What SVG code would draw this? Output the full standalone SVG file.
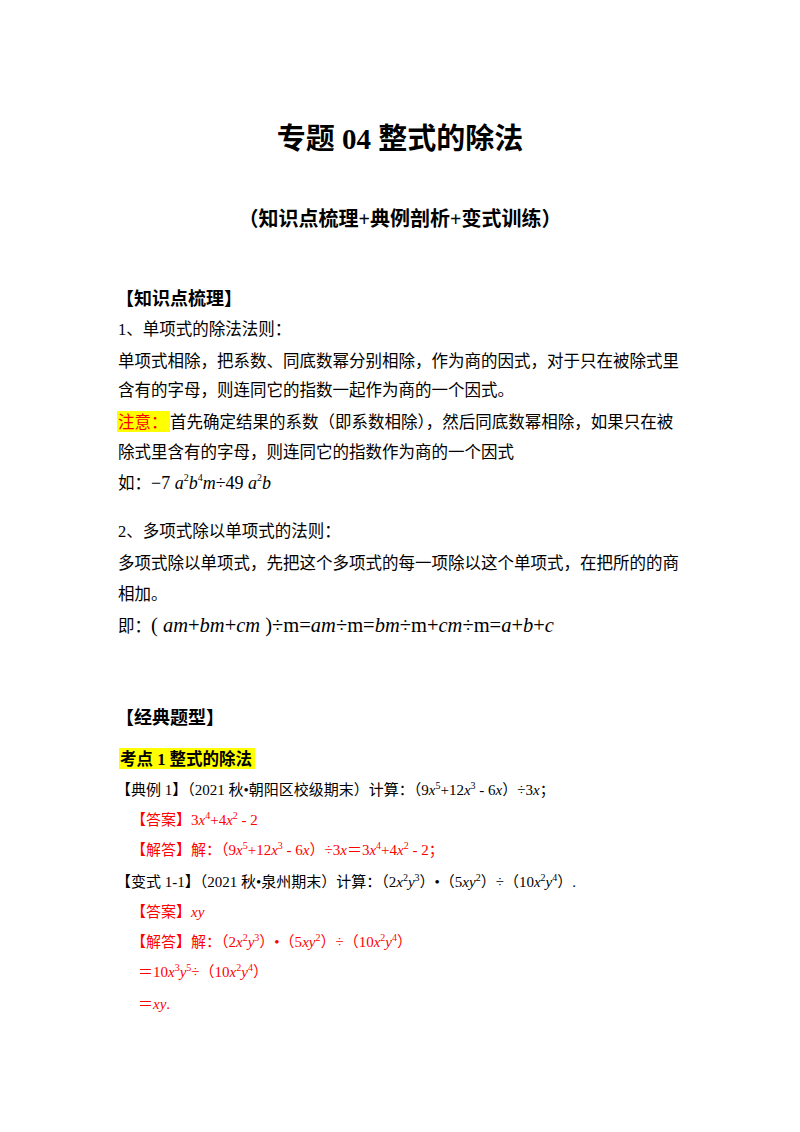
<svg xmlns="http://www.w3.org/2000/svg" width="800" height="1132" viewBox="0 0 800 1132">
<style>
text{font-family:"Liberation Serif","Noto Sans CJK SC",serif;fill:#000}
.b{font-size:16.5px}
.s{font-size:15px}
.h{font-weight:bold}
.r{fill:#f00}
.i{font-style:italic}
.m{font-family:"Liberation Serif",serif;font-style:italic}
.sup{font-size:10px}
</style>
<rect width="800" height="1132" fill="#fff"/>
<text x="400" y="149" text-anchor="middle" class="h" font-size="29">专题 04  整式的除法</text>
<text x="400" y="226" text-anchor="middle" class="h" font-size="20">（知识点梳理+典例剖析+变式训练）</text>
<text x="116" y="305" class="h" font-size="18">【知识点梳理】</text>
<text x="118" y="335" class="b">1、单项式的除法法则：</text>
<text x="118" y="367" class="b">单项式相除，把系数、同底数幂分别相除，作为商的因式，对于只在被除式里</text>
<text x="118" y="396" class="b">含有的字母，则连同它的指数一起作为商的一个因式。</text>
<rect x="117" y="411" width="53" height="21" fill="#ff0"/>
<text x="118" y="428" class="b r">注意：</text>
<text x="170" y="428" class="b">首先确定结果的系数（即系数相除），然后同底数幂相除，如果只在被</text>
<text x="118" y="458" class="b">除式里含有的字母，则连同它的指数作为商的一个因式</text>
<text x="118" y="489" class="b">如：<tspan font-family="Liberation Serif" font-size="18">−7</tspan><tspan class="m" font-size="18"> a</tspan><tspan class="sup" dy="-8">2</tspan><tspan class="m" font-size="18" dy="8">b</tspan><tspan class="sup" dy="-8">4</tspan><tspan class="m" font-size="18" dy="8">m</tspan><tspan font-family="Liberation Serif" font-size="18">÷49</tspan><tspan class="m" font-size="18"> a</tspan><tspan class="sup" dy="-8">2</tspan><tspan class="m" font-size="18" dy="8">b</tspan></text>
<text x="118" y="632" class="b">即：<tspan font-family="Liberation Serif" font-size="20.5">( <tspan class="i">am</tspan>+<tspan class="i">bm</tspan>+<tspan class="i">cm</tspan> )÷m=<tspan class="i">am</tspan>÷m=<tspan class="i">bm</tspan>÷m+<tspan class="i">cm</tspan>÷m=<tspan class="i">a</tspan>+<tspan class="i">b</tspan>+<tspan class="i">c</tspan></tspan></text>
<text x="118" y="537" class="b">2、多项式除以单项式的法则：</text>
<text x="118" y="569" class="b">多项式除以单项式，先把这个多项式的每一项除以这个单项式，在把所的的商</text>
<text x="118" y="600" class="b">相加。</text>
<text x="116" y="724" class="h" font-size="18">【经典题型】</text>
<rect x="119" y="748" width="136" height="21" fill="#ff0"/>
<text x="120" y="765" class="h" font-size="16.5">考点 1  整式的除法</text>
<text x="116" y="795" class="s">【典例 1】（2021 秋•朝阳区校级期末）计算：（9<tspan class="i">x</tspan><tspan class="sup" dy="-6">5</tspan><tspan dy="6">+12</tspan><tspan class="i">x</tspan><tspan class="sup" dy="-6">3</tspan><tspan dy="6"> - 6</tspan><tspan class="i">x</tspan>）÷3<tspan class="i">x</tspan>；</text>
<text x="131" y="825" class="s r">【答案】3<tspan class="i">x</tspan><tspan class="sup" dy="-6">4</tspan><tspan dy="6">+4</tspan><tspan class="i">x</tspan><tspan class="sup" dy="-6">2</tspan><tspan dy="6"> - 2</tspan></text>
<text x="131" y="855" class="s r">【解答】解：（9<tspan class="i">x</tspan><tspan class="sup" dy="-6">5</tspan><tspan dy="6">+12</tspan><tspan class="i">x</tspan><tspan class="sup" dy="-6">3</tspan><tspan dy="6"> - 6</tspan><tspan class="i">x</tspan>）÷3<tspan class="i">x</tspan>＝3<tspan class="i">x</tspan><tspan class="sup" dy="-6">4</tspan><tspan dy="6">+4</tspan><tspan class="i">x</tspan><tspan class="sup" dy="-6">2</tspan><tspan dy="6"> - 2；</tspan></text>
<text x="116" y="887" class="s">【变式 1-1】（2021 秋•泉州期末）计算：（2<tspan class="i">x</tspan><tspan class="sup" dy="-6">2</tspan><tspan class="i" dy="6">y</tspan><tspan class="sup" dy="-6">3</tspan><tspan dy="6">）•（5</tspan><tspan class="i">xy</tspan><tspan class="sup" dy="-6">2</tspan><tspan dy="6">）÷（10</tspan><tspan class="i">x</tspan><tspan class="sup" dy="-6">2</tspan><tspan class="i" dy="6">y</tspan><tspan class="sup" dy="-6">4</tspan><tspan dy="6">）.</tspan></text>
<text x="131" y="917" class="s r">【答案】<tspan class="i">xy</tspan></text>
<text x="131" y="947" class="s r">【解答】解：（2<tspan class="i">x</tspan><tspan class="sup" dy="-6">2</tspan><tspan class="i" dy="6">y</tspan><tspan class="sup" dy="-6">3</tspan><tspan dy="6">）•（5</tspan><tspan class="i">xy</tspan><tspan class="sup" dy="-6">2</tspan><tspan dy="6">）÷（10</tspan><tspan class="i">x</tspan><tspan class="sup" dy="-6">2</tspan><tspan class="i" dy="6">y</tspan><tspan class="sup" dy="-6">4</tspan><tspan dy="6">）</tspan></text>
<text x="138" y="977" class="s r">＝10<tspan class="i">x</tspan><tspan class="sup" dy="-6">3</tspan><tspan class="i" dy="6">y</tspan><tspan class="sup" dy="-6">5</tspan><tspan dy="6">÷（10</tspan><tspan class="i">x</tspan><tspan class="sup" dy="-6">2</tspan><tspan class="i" dy="6">y</tspan><tspan class="sup" dy="-6">4</tspan><tspan dy="6">）</tspan></text>
<text x="138" y="1009" class="s r">＝<tspan class="i">xy</tspan>.</text>
</svg>
